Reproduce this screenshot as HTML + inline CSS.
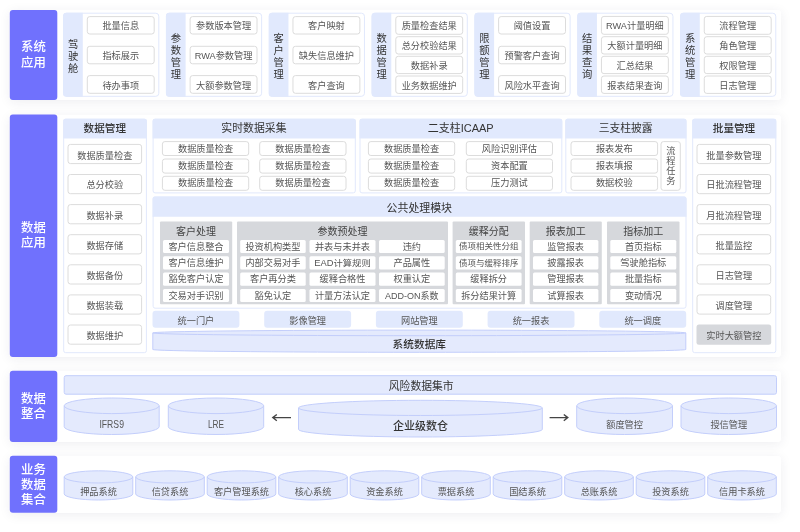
<!DOCTYPE html><html lang="zh"><head><meta charset="utf-8"><title>系统架构</title><style>
*{box-sizing:border-box;margin:0;padding:0}
html,body{width:800px;height:532px;background:#fff;overflow:hidden}
body{position:relative;font-family:"Liberation Sans","Noto Sans CJK SC",sans-serif}
.card{position:absolute;left:10px;width:770.6px;background:#fff;border-radius:3px;box-shadow:0 2px 12px rgba(40,40,80,.08)}
svg{position:absolute;left:0;top:0;will-change:transform}
text{text-anchor:middle;font-family:"Liberation Sans","Noto Sans CJK SC",sans-serif}
.m{font-weight:500}
</style></head><body>
<div class="card" style="top:10px;height:90px"></div>
<div class="card" style="top:114.6px;height:242.4px"></div>
<div class="card" style="top:370.7px;height:71.3px"></div>
<div class="card" style="top:455.8px;height:56.9px"></div>
<svg width="800" height="532" viewBox="0 0 800 532">
<rect x="9.8" y="10" width="47.5" height="90" rx="3" fill="#7071fd"/>
<text x="33.4" y="51" font-size="12.4" fill="#fff" class="m">系统</text>
<text x="33.4" y="67" font-size="12.4" fill="#fff" class="m">应用</text>
<rect x="9.8" y="114.6" width="47.5" height="242.4" rx="3" fill="#7071fd"/>
<text x="33.4" y="232" font-size="12.4" fill="#fff" class="m">数据</text>
<text x="33.4" y="247" font-size="12.4" fill="#fff" class="m">应用</text>
<rect x="9.8" y="370.7" width="47.5" height="71.3" rx="3" fill="#7071fd"/>
<text x="33.4" y="403" font-size="12.4" fill="#fff" class="m">数据</text>
<text x="33.4" y="418" font-size="12.4" fill="#fff" class="m">整合</text>
<rect x="9.8" y="455.8" width="47.5" height="56.9" rx="3" fill="#7071fd"/>
<text x="33.4" y="474" font-size="12.4" fill="#fff" class="m">业务</text>
<text x="33.4" y="489" font-size="12.4" fill="#fff" class="m">数据</text>
<text x="33.4" y="504" font-size="12.4" fill="#fff" class="m">集合</text>
<rect x="63.6" y="13.2" width="95.2" height="83.1" rx="3" fill="#fff" stroke="#e1e8fc" stroke-width="1"/>
<path d="M66.1 12.7 H82.8 V96.8 H66.1 A3 3 0 0 1 63.1 93.8 V15.7 A3 3 0 0 1 66.1 12.7 Z" fill="#e1e9fd"/>
<text x="73.1" y="48" font-size="10.3" fill="#333">驾</text>
<text x="73.1" y="60" font-size="10.3" fill="#333">驶</text>
<text x="73.1" y="72" font-size="10.3" fill="#333">舱</text>
<rect x="87.3" y="16.6" width="66.9" height="17.4" rx="2.5" fill="#fff" stroke="#dcdcdc" stroke-width="1"/>
<text x="120.75" y="29" font-size="9.2" fill="#555">批量信息</text>
<rect x="87.3" y="46.3" width="66.9" height="17.5" rx="2.5" fill="#fff" stroke="#dcdcdc" stroke-width="1"/>
<text x="120.75" y="59" font-size="9.2" fill="#555">指标展示</text>
<rect x="87.3" y="75.6" width="66.9" height="17.7" rx="2.5" fill="#fff" stroke="#dcdcdc" stroke-width="1"/>
<text x="120.75" y="89" font-size="9.2" fill="#555">待办事项</text>
<rect x="166.43" y="13.2" width="95.2" height="83.1" rx="3" fill="#fff" stroke="#e1e8fc" stroke-width="1"/>
<path d="M168.93 12.7 H185.63 V96.8 H168.93 A3 3 0 0 1 165.93 93.8 V15.7 A3 3 0 0 1 168.93 12.7 Z" fill="#e1e9fd"/>
<text x="175.93" y="42" font-size="10.3" fill="#333">参</text>
<text x="175.93" y="54" font-size="10.3" fill="#333">数</text>
<text x="175.93" y="66" font-size="10.3" fill="#333">管</text>
<text x="175.93" y="78" font-size="10.3" fill="#333">理</text>
<rect x="190.13" y="16.6" width="66.9" height="17.4" rx="2.5" fill="#fff" stroke="#dcdcdc" stroke-width="1"/>
<text x="223.58" y="29" font-size="9.2" fill="#555">参数版本管理</text>
<rect x="190.13" y="46.3" width="66.9" height="17.5" rx="2.5" fill="#fff" stroke="#dcdcdc" stroke-width="1"/>
<text x="223.58" y="59" font-size="9.2" fill="#555">RWA参数管理</text>
<rect x="190.13" y="75.6" width="66.9" height="17.7" rx="2.5" fill="#fff" stroke="#dcdcdc" stroke-width="1"/>
<text x="223.58" y="89" font-size="9.2" fill="#555">大额参数管理</text>
<rect x="269.26" y="13.2" width="95.2" height="83.1" rx="3" fill="#fff" stroke="#e1e8fc" stroke-width="1"/>
<path d="M271.76 12.7 H288.46 V96.8 H271.76 A3 3 0 0 1 268.76 93.8 V15.7 A3 3 0 0 1 271.76 12.7 Z" fill="#e1e9fd"/>
<text x="278.76" y="42" font-size="10.3" fill="#333">客</text>
<text x="278.76" y="54" font-size="10.3" fill="#333">户</text>
<text x="278.76" y="66" font-size="10.3" fill="#333">管</text>
<text x="278.76" y="78" font-size="10.3" fill="#333">理</text>
<rect x="292.96" y="16.6" width="66.9" height="17.4" rx="2.5" fill="#fff" stroke="#dcdcdc" stroke-width="1"/>
<text x="326.41" y="29" font-size="9.2" fill="#555">客户映射</text>
<rect x="292.96" y="46.3" width="66.9" height="17.5" rx="2.5" fill="#fff" stroke="#dcdcdc" stroke-width="1"/>
<text x="326.41" y="59" font-size="9.2" fill="#555">缺失信息维护</text>
<rect x="292.96" y="75.6" width="66.9" height="17.7" rx="2.5" fill="#fff" stroke="#dcdcdc" stroke-width="1"/>
<text x="326.41" y="89" font-size="9.2" fill="#555">客户查询</text>
<rect x="372.09" y="13.2" width="95.2" height="83.1" rx="3" fill="#fff" stroke="#e1e8fc" stroke-width="1"/>
<path d="M374.59 12.7 H391.29 V96.8 H374.59 A3 3 0 0 1 371.59 93.8 V15.7 A3 3 0 0 1 374.59 12.7 Z" fill="#e1e9fd"/>
<text x="381.59" y="42" font-size="10.3" fill="#333">数</text>
<text x="381.59" y="54" font-size="10.3" fill="#333">据</text>
<text x="381.59" y="66" font-size="10.3" fill="#333">管</text>
<text x="381.59" y="78" font-size="10.3" fill="#333">理</text>
<rect x="395.79" y="16.4" width="66.9" height="17.9" rx="2.5" fill="#fff" stroke="#dcdcdc" stroke-width="1"/>
<text x="429.24" y="29" font-size="9.2" fill="#555">质量检查结果</text>
<rect x="395.79" y="36.7" width="66.9" height="17.3" rx="2.5" fill="#fff" stroke="#dcdcdc" stroke-width="1"/>
<text x="429.24" y="49" font-size="9.2" fill="#555">总分校验结果</text>
<rect x="395.79" y="56.3" width="66.9" height="17.3" rx="2.5" fill="#fff" stroke="#dcdcdc" stroke-width="1"/>
<text x="429.24" y="69" font-size="9.2" fill="#555">数据补录</text>
<rect x="395.79" y="76" width="66.9" height="17.4" rx="2.5" fill="#fff" stroke="#dcdcdc" stroke-width="1"/>
<text x="429.24" y="89" font-size="9.2" fill="#555">业务数据维护</text>
<rect x="474.92" y="13.2" width="95.2" height="83.1" rx="3" fill="#fff" stroke="#e1e8fc" stroke-width="1"/>
<path d="M477.42 12.7 H494.12 V96.8 H477.42 A3 3 0 0 1 474.42 93.8 V15.7 A3 3 0 0 1 477.42 12.7 Z" fill="#e1e9fd"/>
<text x="484.42" y="42" font-size="10.3" fill="#333">限</text>
<text x="484.42" y="54" font-size="10.3" fill="#333">额</text>
<text x="484.42" y="66" font-size="10.3" fill="#333">管</text>
<text x="484.42" y="78" font-size="10.3" fill="#333">理</text>
<rect x="498.62" y="16.6" width="66.9" height="17.4" rx="2.5" fill="#fff" stroke="#dcdcdc" stroke-width="1"/>
<text x="532.07" y="29" font-size="9.2" fill="#555">阈值设置</text>
<rect x="498.62" y="46.3" width="66.9" height="17.5" rx="2.5" fill="#fff" stroke="#dcdcdc" stroke-width="1"/>
<text x="532.07" y="59" font-size="9.2" fill="#555">预警客户查询</text>
<rect x="498.62" y="75.6" width="66.9" height="17.7" rx="2.5" fill="#fff" stroke="#dcdcdc" stroke-width="1"/>
<text x="532.07" y="89" font-size="9.2" fill="#555">风险水平查询</text>
<rect x="577.75" y="13.2" width="95.2" height="83.1" rx="3" fill="#fff" stroke="#e1e8fc" stroke-width="1"/>
<path d="M580.25 12.7 H596.95 V96.8 H580.25 A3 3 0 0 1 577.25 93.8 V15.7 A3 3 0 0 1 580.25 12.7 Z" fill="#e1e9fd"/>
<text x="587.25" y="42" font-size="10.3" fill="#333">结</text>
<text x="587.25" y="54" font-size="10.3" fill="#333">果</text>
<text x="587.25" y="66" font-size="10.3" fill="#333">查</text>
<text x="587.25" y="78" font-size="10.3" fill="#333">询</text>
<rect x="601.45" y="16.4" width="66.9" height="17.9" rx="2.5" fill="#fff" stroke="#dcdcdc" stroke-width="1"/>
<text x="634.9" y="29" font-size="9.2" fill="#555">RWA计量明细</text>
<rect x="601.45" y="36.7" width="66.9" height="17.3" rx="2.5" fill="#fff" stroke="#dcdcdc" stroke-width="1"/>
<text x="634.9" y="49" font-size="9.2" fill="#555">大额计量明细</text>
<rect x="601.45" y="56.3" width="66.9" height="17.3" rx="2.5" fill="#fff" stroke="#dcdcdc" stroke-width="1"/>
<text x="634.9" y="69" font-size="9.2" fill="#555">汇总结果</text>
<rect x="601.45" y="76" width="66.9" height="17.4" rx="2.5" fill="#fff" stroke="#dcdcdc" stroke-width="1"/>
<text x="634.9" y="89" font-size="9.2" fill="#555">报表结果查询</text>
<rect x="680.58" y="13.2" width="95.2" height="83.1" rx="3" fill="#fff" stroke="#e1e8fc" stroke-width="1"/>
<path d="M683.08 12.7 H699.78 V96.8 H683.08 A3 3 0 0 1 680.08 93.8 V15.7 A3 3 0 0 1 683.08 12.7 Z" fill="#e1e9fd"/>
<text x="690.08" y="42" font-size="10.3" fill="#333">系</text>
<text x="690.08" y="54" font-size="10.3" fill="#333">统</text>
<text x="690.08" y="66" font-size="10.3" fill="#333">管</text>
<text x="690.08" y="78" font-size="10.3" fill="#333">理</text>
<rect x="704.28" y="16.4" width="66.9" height="17.9" rx="2.5" fill="#fff" stroke="#dcdcdc" stroke-width="1"/>
<text x="737.73" y="29" font-size="9.2" fill="#555">流程管理</text>
<rect x="704.28" y="36.7" width="66.9" height="17.3" rx="2.5" fill="#fff" stroke="#dcdcdc" stroke-width="1"/>
<text x="737.73" y="49" font-size="9.2" fill="#555">角色管理</text>
<rect x="704.28" y="56.3" width="66.9" height="17.3" rx="2.5" fill="#fff" stroke="#dcdcdc" stroke-width="1"/>
<text x="737.73" y="69" font-size="9.2" fill="#555">权限管理</text>
<rect x="704.28" y="76" width="66.9" height="17.4" rx="2.5" fill="#fff" stroke="#dcdcdc" stroke-width="1"/>
<text x="737.73" y="89" font-size="9.2" fill="#555">日志管理</text>
<rect x="63.7" y="119.2" width="82.7" height="233.5" rx="2" fill="#fff" stroke="#e1e8fc" stroke-width="1"/>
<path d="M63.2 138.4 V120.7 A2 2 0 0 1 65.2 118.7 H144.9 A2 2 0 0 1 146.9 120.7 V138.4 Z" fill="#e1e9fd"/>
<text x="104.8" y="132" font-size="10.6" fill="#333" class="m">数据管理</text>
<rect x="68" y="144.4" width="73.6" height="19.2" rx="2.5" fill="#fff" stroke="#dcdcdc" stroke-width="1"/>
<text x="104.8" y="159" font-size="9.2" fill="#555">数据质量检查</text>
<rect x="68" y="174.5" width="73.6" height="19.2" rx="2.5" fill="#fff" stroke="#dcdcdc" stroke-width="1"/>
<text x="104.8" y="188" font-size="9.2" fill="#555">总分校验</text>
<rect x="68" y="204.6" width="73.6" height="19.2" rx="2.5" fill="#fff" stroke="#dcdcdc" stroke-width="1"/>
<text x="104.8" y="219" font-size="9.2" fill="#555">数据补录</text>
<rect x="68" y="234.7" width="73.6" height="19.2" rx="2.5" fill="#fff" stroke="#dcdcdc" stroke-width="1"/>
<text x="104.8" y="249" font-size="9.2" fill="#555">数据存储</text>
<rect x="68" y="264.8" width="73.6" height="19.2" rx="2.5" fill="#fff" stroke="#dcdcdc" stroke-width="1"/>
<text x="104.8" y="279" font-size="9.2" fill="#555">数据备份</text>
<rect x="68" y="294.9" width="73.6" height="19.2" rx="2.5" fill="#fff" stroke="#dcdcdc" stroke-width="1"/>
<text x="104.8" y="309" font-size="9.2" fill="#555">数据装载</text>
<rect x="68" y="325" width="73.6" height="19.2" rx="2.5" fill="#fff" stroke="#dcdcdc" stroke-width="1"/>
<text x="104.8" y="339" font-size="9.2" fill="#555">数据维护</text>
<rect x="692.7" y="119.2" width="83.1" height="233.5" rx="2" fill="#fff" stroke="#e1e8fc" stroke-width="1"/>
<path d="M692.2 138.4 V120.7 A2 2 0 0 1 694.2 118.7 H774.3 A2 2 0 0 1 776.3 120.7 V138.4 Z" fill="#e1e9fd"/>
<text x="734" y="132" font-size="10.6" fill="#333" class="m">批量管理</text>
<rect x="697" y="144.4" width="73.7" height="19.2" rx="2.5" fill="#fff" stroke="#dcdcdc" stroke-width="1"/>
<text x="733.85" y="159" font-size="9.2" fill="#555">批量参数管理</text>
<rect x="697" y="174.5" width="73.7" height="19.2" rx="2.5" fill="#fff" stroke="#dcdcdc" stroke-width="1"/>
<text x="733.85" y="188" font-size="9.2" fill="#555">日批流程管理</text>
<rect x="697" y="204.6" width="73.7" height="19.2" rx="2.5" fill="#fff" stroke="#dcdcdc" stroke-width="1"/>
<text x="733.85" y="219" font-size="9.2" fill="#555">月批流程管理</text>
<rect x="697" y="234.7" width="73.7" height="19.2" rx="2.5" fill="#fff" stroke="#dcdcdc" stroke-width="1"/>
<text x="733.85" y="249" font-size="9.2" fill="#555">批量监控</text>
<rect x="697" y="264.8" width="73.7" height="19.2" rx="2.5" fill="#fff" stroke="#dcdcdc" stroke-width="1"/>
<text x="733.85" y="279" font-size="9.2" fill="#555">日志管理</text>
<rect x="697" y="294.9" width="73.7" height="19.2" rx="2.5" fill="#fff" stroke="#dcdcdc" stroke-width="1"/>
<text x="733.85" y="309" font-size="9.2" fill="#555">调度管理</text>
<rect x="696.5" y="324.5" width="74.7" height="20.2" rx="2.5" fill="#d6d8dc"/>
<text x="733.85" y="339" font-size="9.2" fill="#555">实时大额管控</text>
<rect x="153.1" y="119.2" width="202.2" height="73.7" rx="2" fill="#fff" stroke="#e1e8fc" stroke-width="1"/>
<path d="M152.6 138.4 V120.7 A2 2 0 0 1 154.6 118.7 H353.8 A2 2 0 0 1 355.8 120.7 V138.4 Z" fill="#e1e9fd"/>
<text x="253.95" y="132" font-size="10.9" fill="#333">实时数据采集</text>
<rect x="162.4" y="141.6" width="86.3" height="13.9" rx="2.5" fill="#fff" stroke="#dcdcdc" stroke-width="1"/>
<text x="205.55" y="152" font-size="9.2" fill="#555">数据质量检查</text>
<rect x="259.7" y="141.6" width="86.3" height="13.9" rx="2.5" fill="#fff" stroke="#dcdcdc" stroke-width="1"/>
<text x="302.85" y="152" font-size="9.2" fill="#555">数据质量检查</text>
<rect x="162.4" y="159" width="86.3" height="14.1" rx="2.5" fill="#fff" stroke="#dcdcdc" stroke-width="1"/>
<text x="205.55" y="169" font-size="9.2" fill="#555">数据质量检查</text>
<rect x="259.7" y="159" width="86.3" height="14.1" rx="2.5" fill="#fff" stroke="#dcdcdc" stroke-width="1"/>
<text x="302.85" y="169" font-size="9.2" fill="#555">数据质量检查</text>
<rect x="162.4" y="176.3" width="86.3" height="14" rx="2.5" fill="#fff" stroke="#dcdcdc" stroke-width="1"/>
<text x="205.55" y="186" font-size="9.2" fill="#555">数据质量检查</text>
<rect x="259.7" y="176.3" width="86.3" height="14" rx="2.5" fill="#fff" stroke="#dcdcdc" stroke-width="1"/>
<text x="302.85" y="186" font-size="9.2" fill="#555">数据质量检查</text>
<rect x="360" y="119.2" width="201.8" height="73.7" rx="2" fill="#fff" stroke="#e1e8fc" stroke-width="1"/>
<path d="M359.5 138.4 V120.7 A2 2 0 0 1 361.5 118.7 H560.3 A2 2 0 0 1 562.3 120.7 V138.4 Z" fill="#e1e9fd"/>
<text x="460.65" y="132" font-size="11" fill="#333">二支柱ICAAP</text>
<rect x="368.4" y="141.6" width="86.3" height="13.9" rx="2.5" fill="#fff" stroke="#dcdcdc" stroke-width="1"/>
<text x="411.55" y="152" font-size="9.2" fill="#555">数据质量检查</text>
<rect x="466.3" y="141.6" width="86.2" height="13.9" rx="2.5" fill="#fff" stroke="#dcdcdc" stroke-width="1"/>
<text x="509.4" y="152" font-size="9.2" fill="#555">风险识别评估</text>
<rect x="368.4" y="159" width="86.3" height="14.1" rx="2.5" fill="#fff" stroke="#dcdcdc" stroke-width="1"/>
<text x="411.55" y="169" font-size="9.2" fill="#555">数据质量检查</text>
<rect x="466.3" y="159" width="86.2" height="14.1" rx="2.5" fill="#fff" stroke="#dcdcdc" stroke-width="1"/>
<text x="509.4" y="169" font-size="9.2" fill="#555">资本配置</text>
<rect x="368.4" y="176.3" width="86.3" height="14" rx="2.5" fill="#fff" stroke="#dcdcdc" stroke-width="1"/>
<text x="411.55" y="186" font-size="9.2" fill="#555">数据质量检查</text>
<rect x="466.3" y="176.3" width="86.2" height="14" rx="2.5" fill="#fff" stroke="#dcdcdc" stroke-width="1"/>
<text x="509.4" y="186" font-size="9.2" fill="#555">压力测试</text>
<rect x="565.8" y="119.2" width="120.2" height="73.7" rx="2" fill="#fff" stroke="#e1e8fc" stroke-width="1"/>
<path d="M565.3 138.4 V120.7 A2 2 0 0 1 567.3 118.7 H684.5 A2 2 0 0 1 686.5 120.7 V138.4 Z" fill="#e1e9fd"/>
<text x="625.65" y="132" font-size="10.8" fill="#333">三支柱披露</text>
<rect x="571" y="141.6" width="86.6" height="13.9" rx="2.5" fill="#fff" stroke="#dcdcdc" stroke-width="1"/>
<text x="614.3" y="152" font-size="9.2" fill="#555">报表发布</text>
<rect x="571" y="159" width="86.6" height="14.1" rx="2.5" fill="#fff" stroke="#dcdcdc" stroke-width="1"/>
<text x="614.3" y="169" font-size="9.2" fill="#555">报表填报</text>
<rect x="571" y="176.3" width="86.6" height="14" rx="2.5" fill="#fff" stroke="#dcdcdc" stroke-width="1"/>
<text x="614.3" y="186" font-size="9.2" fill="#555">数据校验</text>
<rect x="661" y="141.6" width="19.3" height="48.7" rx="2.5" fill="#fff" stroke="#dcdcdc" stroke-width="1"/>
<text x="670.8" y="154" font-size="9.2" fill="#555">流</text>
<text x="670.8" y="164" font-size="9.2" fill="#555">程</text>
<text x="670.8" y="174" font-size="9.2" fill="#555">任</text>
<text x="670.8" y="184" font-size="9.2" fill="#555">务</text>
<rect x="153.1" y="197" width="532.9" height="111.2" rx="2" fill="#fff" stroke="#e1e8fc" stroke-width="1"/>
<path d="M152.6 216.7 V198.5 A2 2 0 0 1 154.6 196.5 H684.5 A2 2 0 0 1 686.5 198.5 V216.7 Z" fill="#e1e9fd"/>
<text x="419.3" y="212" font-size="10.9" fill="#333">公共处理模块</text>
<rect x="160" y="221.5" width="72.2" height="82.7" rx="1" fill="#d6d8dc"/>
<text x="196.1" y="235" font-size="10" fill="#444">客户处理</text>
<rect x="163" y="240" width="66" height="13.1" rx="1.5" fill="#fff"/>
<text x="196" y="250" font-size="9.2" fill="#555">客户信息整合</text>
<rect x="163" y="256.2" width="66" height="13.2" rx="1.5" fill="#fff"/>
<text x="196" y="266" font-size="9.2" fill="#555">客户信息维护</text>
<rect x="163" y="272.5" width="66" height="13.2" rx="1.5" fill="#fff"/>
<text x="196" y="282" font-size="9.2" fill="#555">豁免客户认定</text>
<rect x="163" y="288.9" width="66" height="13.1" rx="1.5" fill="#fff"/>
<text x="196" y="299" font-size="9.2" fill="#555">交易对手识别</text>
<rect x="237" y="221.5" width="211" height="82.7" rx="1" fill="#d6d8dc"/>
<text x="342.5" y="235" font-size="10" fill="#444">参数预处理</text>
<rect x="240.2" y="240" width="65.5" height="13.1" rx="1.5" fill="#fff"/>
<text x="272.95" y="250" font-size="9.2" fill="#555">投资机构类型</text>
<rect x="240.2" y="256.2" width="65.5" height="13.2" rx="1.5" fill="#fff"/>
<text x="272.95" y="266" font-size="9.2" fill="#555">内部交易对手</text>
<rect x="240.2" y="272.5" width="65.5" height="13.2" rx="1.5" fill="#fff"/>
<text x="272.95" y="282" font-size="9.2" fill="#555">客户再分类</text>
<rect x="240.2" y="288.9" width="65.5" height="13.1" rx="1.5" fill="#fff"/>
<text x="272.95" y="299" font-size="9.2" fill="#555">豁免认定</text>
<rect x="309.5" y="240" width="66" height="13.1" rx="1.5" fill="#fff"/>
<text x="342.5" y="250" font-size="9.2" fill="#555">并表与未并表</text>
<rect x="309.5" y="256.2" width="66" height="13.2" rx="1.5" fill="#fff"/>
<text x="342.5" y="266" font-size="8.5" fill="#555" textLength="56.5" lengthAdjust="spacingAndGlyphs">EAD计算规则</text>
<rect x="309.5" y="272.5" width="66" height="13.2" rx="1.5" fill="#fff"/>
<text x="342.5" y="282" font-size="9.2" fill="#555">缓释合格性</text>
<rect x="309.5" y="288.9" width="66" height="13.1" rx="1.5" fill="#fff"/>
<text x="342.5" y="299" font-size="9.2" fill="#555">计量方法认定</text>
<rect x="379" y="240" width="65.7" height="13.1" rx="1.5" fill="#fff"/>
<text x="411.85" y="250" font-size="9.2" fill="#555">违约</text>
<rect x="379" y="256.2" width="65.7" height="13.2" rx="1.5" fill="#fff"/>
<text x="411.85" y="266" font-size="9.2" fill="#555">产品属性</text>
<rect x="379" y="272.5" width="65.7" height="13.2" rx="1.5" fill="#fff"/>
<text x="411.85" y="282" font-size="9.2" fill="#555">权重认定</text>
<rect x="379" y="288.9" width="65.7" height="13.1" rx="1.5" fill="#fff"/>
<text x="411.85" y="299" font-size="9" fill="#555">ADD-ON系数</text>
<rect x="452.6" y="221.5" width="72.4" height="82.7" rx="1" fill="#d6d8dc"/>
<text x="488.8" y="235" font-size="10" fill="#444">缓释分配</text>
<rect x="455.8" y="240" width="65.8" height="13.1" rx="1.5" fill="#fff"/>
<text x="488.7" y="249" font-size="8.5" fill="#555">债项相关性分组</text>
<rect x="455.8" y="256.2" width="65.8" height="13.2" rx="1.5" fill="#fff"/>
<text x="488.7" y="266" font-size="8.5" fill="#555">债项与缓释排序</text>
<rect x="455.8" y="272.5" width="65.8" height="13.2" rx="1.5" fill="#fff"/>
<text x="488.7" y="282" font-size="9.2" fill="#555">缓释拆分</text>
<rect x="455.8" y="288.9" width="65.8" height="13.1" rx="1.5" fill="#fff"/>
<text x="488.7" y="299" font-size="9.2" fill="#555">拆分结果计算</text>
<rect x="529.7" y="221.5" width="72.1" height="82.7" rx="1" fill="#d6d8dc"/>
<text x="565.75" y="235" font-size="10" fill="#444">报表加工</text>
<rect x="533" y="240" width="65.4" height="13.1" rx="1.5" fill="#fff"/>
<text x="565.7" y="250" font-size="9.2" fill="#555">监管报表</text>
<rect x="533" y="256.2" width="65.4" height="13.2" rx="1.5" fill="#fff"/>
<text x="565.7" y="266" font-size="9.2" fill="#555">披露报表</text>
<rect x="533" y="272.5" width="65.4" height="13.2" rx="1.5" fill="#fff"/>
<text x="565.7" y="282" font-size="9.2" fill="#555">管理报表</text>
<rect x="533" y="288.9" width="65.4" height="13.1" rx="1.5" fill="#fff"/>
<text x="565.7" y="299" font-size="9.2" fill="#555">试算报表</text>
<rect x="607" y="221.5" width="72.5" height="82.7" rx="1" fill="#d6d8dc"/>
<text x="643.25" y="235" font-size="10" fill="#444">指标加工</text>
<rect x="610.3" y="240" width="66" height="13.1" rx="1.5" fill="#fff"/>
<text x="643.3" y="250" font-size="9.2" fill="#555">首页指标</text>
<rect x="610.3" y="256.2" width="66" height="13.2" rx="1.5" fill="#fff"/>
<text x="643.3" y="266" font-size="9.2" fill="#555">驾驶舱指标</text>
<rect x="610.3" y="272.5" width="66" height="13.2" rx="1.5" fill="#fff"/>
<text x="643.3" y="282" font-size="9.2" fill="#555">批量指标</text>
<rect x="610.3" y="288.9" width="66" height="13.1" rx="1.5" fill="#fff"/>
<text x="643.3" y="299" font-size="9.2" fill="#555">变动情况</text>
<rect x="152.5" y="310.7" width="86.9" height="17.1" rx="3" fill="#e1e9fd"/>
<text x="195.95" y="324" font-size="9.2" fill="#555">统一门户</text>
<rect x="264.2" y="310.7" width="86.9" height="17.1" rx="3" fill="#e1e9fd"/>
<text x="307.65" y="324" font-size="9.2" fill="#555">影像管理</text>
<rect x="375.9" y="310.7" width="86.9" height="17.1" rx="3" fill="#e1e9fd"/>
<text x="419.35" y="324" font-size="9.2" fill="#555">网站管理</text>
<rect x="487.6" y="310.7" width="86.9" height="17.1" rx="3" fill="#e1e9fd"/>
<text x="531.05" y="324" font-size="9.2" fill="#555">统一报表</text>
<rect x="599.3" y="310.7" width="86.9" height="17.1" rx="3" fill="#e1e9fd"/>
<text x="642.75" y="324" font-size="9.2" fill="#555">统一调度</text>
<path d="M152.8 332.9 V349.5 A266.5 2.8 0 0 0 685.8 349.5 V332.9 A266.5 2.8 0 0 0 152.8 332.9 Z" fill="#e4eafd" stroke="#c3cefb" stroke-width="1"/>
<path d="M152.8 332.9 A266.5 2.8 0 0 0 685.8 332.9" fill="none" stroke="#c3cefb" stroke-width="1"/>
<text x="419.3" y="348" font-size="10.7" fill="#333" class="m">系统数据库</text>
<rect x="64.2" y="375.7" width="712.3" height="18.5" rx="1.8" fill="#e4eafd" stroke="#c3cefb" stroke-width="1"/>
<text x="421.2" y="390" font-size="10.8" fill="#333">风险数据集市</text>
<path d="M64.2 405.8 V426.7 A47.5 7.8 0 0 0 159.2 426.7 V405.8 A47.5 7.8 0 0 0 64.2 405.8 Z" fill="#e4eafd" stroke="#c3cefb" stroke-width="1"/>
<path d="M64.2 405.8 A47.5 7.8 0 0 0 159.2 405.8" fill="none" stroke="#c3cefb" stroke-width="1"/>
<text x="111.7" y="428" font-size="10.6" fill="#555" textLength="24.5" lengthAdjust="spacingAndGlyphs">IFRS9</text>
<path d="M168.3 405.8 V426.7 A47.7 7.8 0 0 0 263.7 426.7 V405.8 A47.7 7.8 0 0 0 168.3 405.8 Z" fill="#e4eafd" stroke="#c3cefb" stroke-width="1"/>
<path d="M168.3 405.8 A47.7 7.8 0 0 0 263.7 405.8" fill="none" stroke="#c3cefb" stroke-width="1"/>
<text x="216" y="428" font-size="10.6" fill="#555" textLength="16" lengthAdjust="spacingAndGlyphs">LRE</text>
<path d="M298.5 407.9 V429.4 A121.9 7.6 0 0 0 542.3 429.4 V407.9 A121.9 7.6 0 0 0 298.5 407.9 Z" fill="#e4eafd" stroke="#c3cefb" stroke-width="1"/>
<path d="M298.5 407.9 A121.9 7.6 0 0 0 542.3 407.9" fill="none" stroke="#c3cefb" stroke-width="1"/>
<text x="420.4" y="430" font-size="11" fill="#333" class="m">企业级数仓</text>
<path d="M576.7 405.8 V426.7 A47.9 7.8 0 0 0 672.5 426.7 V405.8 A47.9 7.8 0 0 0 576.7 405.8 Z" fill="#e4eafd" stroke="#c3cefb" stroke-width="1"/>
<path d="M576.7 405.8 A47.9 7.8 0 0 0 672.5 405.8" fill="none" stroke="#c3cefb" stroke-width="1"/>
<text x="624.6" y="428" font-size="9.2" fill="#555">额度管控</text>
<path d="M681 405.8 V426.7 A47.75 7.8 0 0 0 776.5 426.7 V405.8 A47.75 7.8 0 0 0 681 405.8 Z" fill="#e4eafd" stroke="#c3cefb" stroke-width="1"/>
<path d="M681 405.8 A47.75 7.8 0 0 0 776.5 405.8" fill="none" stroke="#c3cefb" stroke-width="1"/>
<text x="728.75" y="428" font-size="9.2" fill="#555">授信管理</text>
<path d="M272.8 417.6H291M276.8 414.5L272.8 417.6L276.8 420.7" fill="none" stroke="#454545" stroke-width="1.4"/>
<path d="M549.6 417.6H567.8M563.8 414.5L567.8 417.6L563.8 420.7" fill="none" stroke="#454545" stroke-width="1.4"/>
<path d="M64.2 476.9 V493.9 A34.3 6.1 0 0 0 132.8 493.9 V476.9 A34.3 6.1 0 0 0 64.2 476.9 Z" fill="#e4eafd" stroke="#c3cefb" stroke-width="1"/>
<path d="M64.2 476.9 A34.3 6.1 0 0 0 132.8 476.9" fill="none" stroke="#c3cefb" stroke-width="1"/>
<text x="98.5" y="495" font-size="9.2" fill="#555">押品系统</text>
<path d="M135.7 476.9 V493.9 A34.3 6.1 0 0 0 204.3 493.9 V476.9 A34.3 6.1 0 0 0 135.7 476.9 Z" fill="#e4eafd" stroke="#c3cefb" stroke-width="1"/>
<path d="M135.7 476.9 A34.3 6.1 0 0 0 204.3 476.9" fill="none" stroke="#c3cefb" stroke-width="1"/>
<text x="170" y="495" font-size="9.2" fill="#555">信贷系统</text>
<path d="M207.2 476.9 V493.9 A34.3 6.1 0 0 0 275.8 493.9 V476.9 A34.3 6.1 0 0 0 207.2 476.9 Z" fill="#e4eafd" stroke="#c3cefb" stroke-width="1"/>
<path d="M207.2 476.9 A34.3 6.1 0 0 0 275.8 476.9" fill="none" stroke="#c3cefb" stroke-width="1"/>
<text x="241.5" y="495" font-size="9.2" fill="#555">客户管理系统</text>
<path d="M278.7 476.9 V493.9 A34.3 6.1 0 0 0 347.3 493.9 V476.9 A34.3 6.1 0 0 0 278.7 476.9 Z" fill="#e4eafd" stroke="#c3cefb" stroke-width="1"/>
<path d="M278.7 476.9 A34.3 6.1 0 0 0 347.3 476.9" fill="none" stroke="#c3cefb" stroke-width="1"/>
<text x="313" y="495" font-size="9.2" fill="#555">核心系统</text>
<path d="M350.2 476.9 V493.9 A34.3 6.1 0 0 0 418.8 493.9 V476.9 A34.3 6.1 0 0 0 350.2 476.9 Z" fill="#e4eafd" stroke="#c3cefb" stroke-width="1"/>
<path d="M350.2 476.9 A34.3 6.1 0 0 0 418.8 476.9" fill="none" stroke="#c3cefb" stroke-width="1"/>
<text x="384.5" y="495" font-size="9.2" fill="#555">资金系统</text>
<path d="M421.7 476.9 V493.9 A34.3 6.1 0 0 0 490.3 493.9 V476.9 A34.3 6.1 0 0 0 421.7 476.9 Z" fill="#e4eafd" stroke="#c3cefb" stroke-width="1"/>
<path d="M421.7 476.9 A34.3 6.1 0 0 0 490.3 476.9" fill="none" stroke="#c3cefb" stroke-width="1"/>
<text x="456" y="495" font-size="9.2" fill="#555">票据系统</text>
<path d="M493.2 476.9 V493.9 A34.3 6.1 0 0 0 561.8 493.9 V476.9 A34.3 6.1 0 0 0 493.2 476.9 Z" fill="#e4eafd" stroke="#c3cefb" stroke-width="1"/>
<path d="M493.2 476.9 A34.3 6.1 0 0 0 561.8 476.9" fill="none" stroke="#c3cefb" stroke-width="1"/>
<text x="527.5" y="495" font-size="9.2" fill="#555">国结系统</text>
<path d="M564.7 476.9 V493.9 A34.3 6.1 0 0 0 633.3 493.9 V476.9 A34.3 6.1 0 0 0 564.7 476.9 Z" fill="#e4eafd" stroke="#c3cefb" stroke-width="1"/>
<path d="M564.7 476.9 A34.3 6.1 0 0 0 633.3 476.9" fill="none" stroke="#c3cefb" stroke-width="1"/>
<text x="599" y="495" font-size="9.2" fill="#555">总账系统</text>
<path d="M636.2 476.9 V493.9 A34.3 6.1 0 0 0 704.8 493.9 V476.9 A34.3 6.1 0 0 0 636.2 476.9 Z" fill="#e4eafd" stroke="#c3cefb" stroke-width="1"/>
<path d="M636.2 476.9 A34.3 6.1 0 0 0 704.8 476.9" fill="none" stroke="#c3cefb" stroke-width="1"/>
<text x="670.5" y="495" font-size="9.2" fill="#555">投资系统</text>
<path d="M707.7 476.9 V493.9 A34.3 6.1 0 0 0 776.3 493.9 V476.9 A34.3 6.1 0 0 0 707.7 476.9 Z" fill="#e4eafd" stroke="#c3cefb" stroke-width="1"/>
<path d="M707.7 476.9 A34.3 6.1 0 0 0 776.3 476.9" fill="none" stroke="#c3cefb" stroke-width="1"/>
<text x="742" y="495" font-size="9.2" fill="#555">信用卡系统</text>
</svg></body></html>
